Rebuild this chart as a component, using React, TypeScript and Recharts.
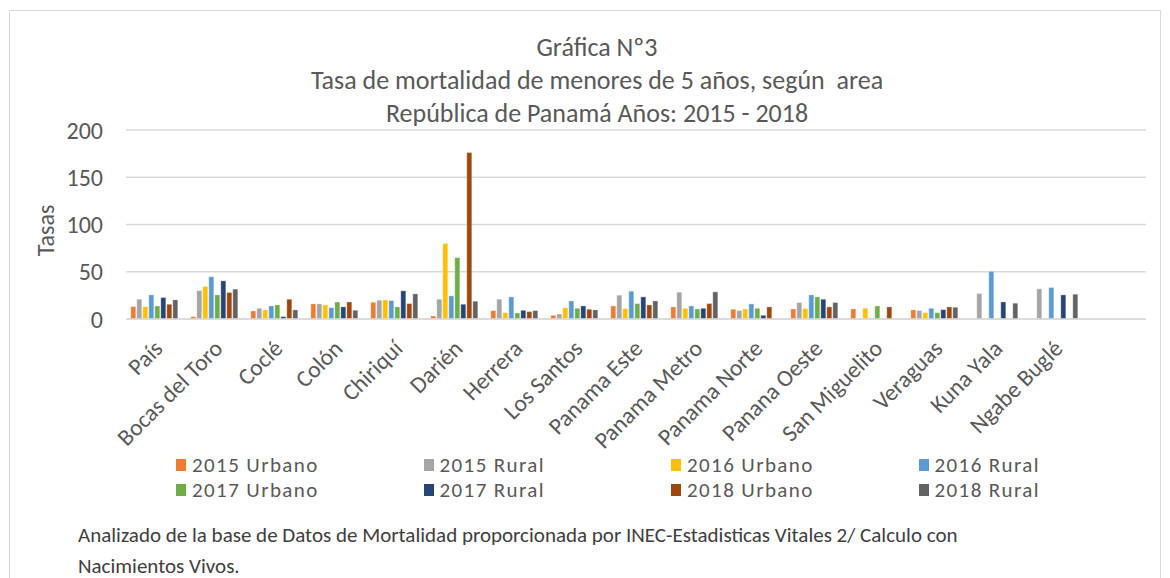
import React from 'react';
import { BarChart, Bar, XAxis, YAxis, CartesianGrid, Legend } from 'recharts';

const categories = ['País', 'Bocas del Toro', 'Coclé', 'Colón', 'Chiriquí', 'Darién', 'Herrera', 'Los Santos', 'Panama Este', 'Panama Metro', 'Panama Norte', 'Panana Oeste', 'San Miguelito', 'Veraguas', 'Kuna Yala', 'Ngabe Buglé', ''];

const urbano2015 = [13.1, 2.5, 8.5, 16, 17.7, 3.2, 8.9, 3.9, 13.8, 12.8, 10.3, 10.6, 10.6, 9.6, null, null, null];
const rural2015 = [20.9, 30, 11.3, 16, 19.9, 20.9, 20.9, 5.3, 25.2, 28.4, 8.9, 17.4, null, 8.9, 27, 31.9, null];
const urbano2016 = [13, 34.4, 9.6, 14.9, 20.2, 79.8, 6.7, 11.7, 11, 11.3, 10.6, 11, 11.3, 6.7, null, null, null];
const rural2016 = [25.5, 44.7, 13.8, 12, 19.5, 24.5, 23.4, 19.1, 29.4, 13.8, 16, 25.5, null, 11.3, 50.4, 33.3, null];
const urbano2017 = [13.8, 25.5, 14.9, 18, 12.8, 64.9, 6.4, 11.3, 16.3, 10.6, 11.3, 23.4, 13.8, 6.7, null, null, null];
const rural2017 = [22.7, 40.4, 2.5, 12.8, 29.8, 15.6, 9.2, 13.8, 23.4, 11.3, 3.9, 20.9, null, 9.9, 18, 25.5, null];
const urbano2018 = [15.6, 28, 20.9, 18, 16.3, 176.2, 7.8, 10.3, 14.9, 16.3, 12.8, 12.8, 12.8, 12.8, null, null, null];
const rural2018 = [20.2, 31.6, 9.6, 9.2, 26.6, 18.8, 8.9, 9.6, 19.1, 28.7, null, 17.4, null, 12.4, 16.7, 26.2, null];

const yTicks = [0, 50, 100, 150, 200];

const titleLines = ['Gráfica Nº3', 'Tasa de mortalidad de menores de 5 años, según  area', 'República de Panamá Años: 2015 - 2018'];
const footnoteLines = ['Analizado de la base de Datos de Mortalidad proporcionada por INEC-Estadisticas Vitales 2/ Calculo con', 'Nacimientos Vivos.'];

const series = [
  { key: 'u2015', name: '2015 Urbano', values: urbano2015, color: '#ED7D31' },
  { key: 'r2015', name: '2015 Rural', values: rural2015, color: '#A5A5A5' },
  { key: 'u2016', name: '2016 Urbano', values: urbano2016, color: '#FFC000' },
  { key: 'r2016', name: '2016 Rural', values: rural2016, color: '#5B9BD5' },
  { key: 'u2017', name: '2017 Urbano', values: urbano2017, color: '#70AD47' },
  { key: 'r2017', name: '2017 Rural', values: rural2017, color: '#264478' },
  { key: 'u2018', name: '2018 Urbano', values: urbano2018, color: '#9E480E' },
  { key: 'r2018', name: '2018 Rural', values: rural2018, color: '#636363' },
];

const data = categories.map((c, i) => {
  const row: Record<string, any> = { name: c };
  series.forEach((s) => { row[s.key] = s.values[i]; });
  return row;
});

const FONT = "Carlito, Calibri, Lato, 'Open Sans', sans-serif";
const TEXT = '#595959';

const LegendContent = (props: any) => {
  const payload = (props.payload || []).slice();
  const order = series.map((s) => s.name);
  payload.sort((a: any, b: any) => order.indexOf(a.value) - order.indexOf(b.value));
  return (
    <div style={{ position: 'relative', width: 1170, height: 60, fontFamily: FONT }}>
      {payload.map((p: any, i: number) => {
        const col = i % 4;
        const row = Math.floor(i / 4);
        return (
          <div key={p.value} style={{ position: 'absolute', left: 176 + col * 247.5, top: row * 25, display: 'flex', alignItems: 'center', height: 22, whiteSpace: 'nowrap' }}>
            <span style={{ display: 'inline-block', width: 10, height: 12, background: p.color, marginRight: 6 }} />
            <span style={{ fontSize: 21, lineHeight: '22px', letterSpacing: 1.4, color: TEXT }}>{p.value}</span>
          </div>
        );
      })}
    </div>
  );
};

const YLabel = (props: any) => {
  const vb = props.viewBox || { x: 0, y: 0, width: 0, height: 0 };
  const cx = vb.x + 45;
  const cy = vb.y + vb.height / 2 + 6;
  return (
    <text x={cx} y={cy} transform={`rotate(-90 ${cx} ${cy})`} textAnchor="middle" dominantBaseline="central" fill={TEXT} fontSize={24} fontFamily={FONT}>Tasas</text>
  );
};

const XTick = (props: any) => {
  const { x, y, payload } = props;
  return (
    <g transform={`translate(${x + 8},${y + 31})`}>
      <text x={0} y={0} textAnchor="end" transform="rotate(-45)" fill={TEXT} fontSize={23.5} fontFamily={FONT}>{payload.value}</text>
    </g>
  );
};

export default function App() {
  return (
    <div style={{ position: 'absolute', left: 0, top: 0, width: 1170, height: 578, background: '#fff', overflow: 'hidden', fontFamily: FONT }}>
      <div style={{ position: 'absolute', left: 9, top: 10, width: 1152, height: 600, border: '1px solid #d9d9d9', boxSizing: 'border-box' }} />
      {titleLines.map((t, i) => (
        <div key={i} style={{ position: 'absolute', left: 597, top: 31 + i * 33, transform: 'translateX(-50%)', whiteSpace: 'pre', fontSize: 26, lineHeight: '32px', color: TEXT }}>{t}</div>
      ))}
      <div style={{ position: 'absolute', left: 0, top: 0 }}>
        <BarChart width={1170} height={578} data={data} margin={{ top: 130, right: 24, bottom: 0, left: 0 }} barCategoryGap="8%" barGap={1}>
          <CartesianGrid vertical={false} stroke="#d9d9d9" strokeWidth={1.5} />
          <XAxis dataKey="name" interval={0} height={259} axisLine={{ stroke: '#d9d9d9', strokeWidth: 1.5 }} tickLine={false} tick={<XTick />} tickSize={0} tickMargin={0} />
          <YAxis width={126} domain={[0, 200]} ticks={yTicks} axisLine={false} tickLine={false} tickSize={0} tickMargin={23} tick={{ fill: TEXT, fontSize: 24, fontFamily: FONT }} label={<YLabel />} />
          <Legend layout="horizontal" verticalAlign="middle" align="center" content={<LegendContent />} wrapperStyle={{ top: 454, left: 0, width: 1170 }} />
          {series.map((s) => (
            <Bar key={s.key} dataKey={s.key} name={s.name} fill={s.color} stroke="#ffffff" strokeOpacity={0.6} strokeWidth={0.5} isAnimationActive={false} />
          ))}
        </BarChart>
      </div>
      {footnoteLines.map((t, i) => (
        <div key={i} style={{ position: 'absolute', left: 78, top: 522 + i * 31, fontSize: 21, lineHeight: '26px', color: '#404040', whiteSpace: 'nowrap' }}>{t}</div>
      ))}
    </div>
  );
}
